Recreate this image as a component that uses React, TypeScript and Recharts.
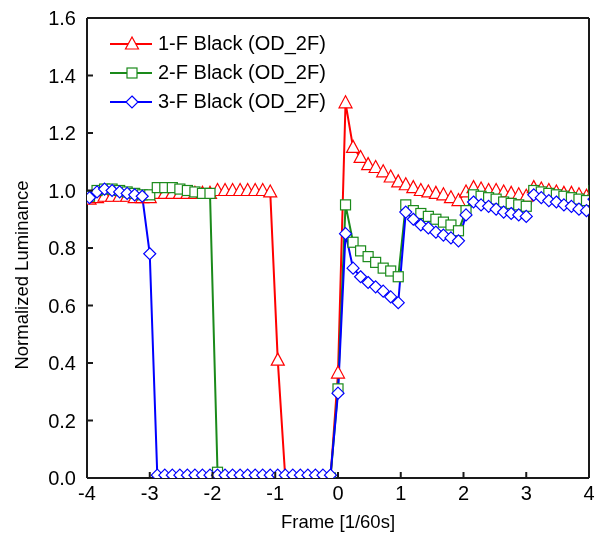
import React from 'react';
import { LineChart, Line, XAxis, YAxis, Legend, ReferenceLine } from 'recharts';

const frameX = [
  -3.96, -3.84, -3.72, -3.6, -3.48, -3.36, -3.24, -3.12, -3.0,
  -2.88, -2.76, -2.64, -2.52, -2.4, -2.28, -2.16, -2.04,
  -1.92, -1.8, -1.68, -1.56, -1.44, -1.32, -1.2, -1.08,
  -0.96, -0.84, -0.72, -0.6, -0.48, -0.36, -0.24, -0.12,
  0,
  0.12, 0.24, 0.36, 0.48, 0.6, 0.72, 0.84, 0.96,
  1.08, 1.2, 1.32, 1.44, 1.56, 1.68, 1.8, 1.92,
  2.04, 2.16, 2.28, 2.4, 2.52, 2.64, 2.76, 2.88, 3.0,
  3.12, 3.24, 3.36, 3.48, 3.6, 3.72, 3.84, 3.96, 4.08,
];

const black1F = [
  0.97, 0.975, 0.98, 0.98, 0.98, 0.98, 0.975, 0.975, 0.975,
  0.99, 0.99, 0.99, 0.99, 0.99, 0.99, 0.99, 0.99,
  1.0, 1.0, 1.0, 1.0, 1.0, 1.0, 1.0, 0.995,
  0.41, 0, 0, 0, 0, 0, 0, 0,
  0.365,
  1.305, 1.15, 1.115, 1.09, 1.08, 1.065, 1.047, 1.03,
  1.02, 1.01, 1.0, 0.995, 0.99, 0.985, 0.975, 0.965,
  0.995, 1.01, 1.005, 1.0, 1.0, 0.995, 0.99, 0.985, 0.98,
  1.01, 1.005, 1.0, 0.995, 0.99, 0.99, 0.985, 0.98, 1.0,
];

const black2F = [
  0.98, 1.0, 1.005, 1.005, 1.0, 0.995, 0.99, 0.985, 0.985,
  1.01, 1.01, 1.01, 1.005, 1.0, 0.995, 0.99, 0.99,
  0.02, 0, 0, 0, 0, 0, 0, 0,
  0, 0, 0, 0, 0, 0, 0, 0,
  0.31,
  0.95, 0.82, 0.79, 0.77, 0.75, 0.73, 0.72, 0.70,
  0.95, 0.93, 0.92, 0.91, 0.90, 0.89, 0.88, 0.86,
  0.93, 0.985, 0.98, 0.975, 0.97, 0.96, 0.955, 0.95, 0.945,
  1.0, 0.995, 0.99, 0.985, 0.98, 0.975, 0.97, 0.965, 1.0,
];

const black3F = [
  0.975, 0.995, 1.005, 1.0, 0.995, 0.99, 0.985, 0.98, 0.78,
  0.01, 0.01, 0.01, 0.01, 0.01, 0.01, 0.01, 0.01,
  0.01, 0.01, 0.01, 0.01, 0.01, 0.01, 0.01, 0.01,
  0.01, 0.01, 0.01, 0.01, 0.01, 0.01, 0.01, 0.01,
  0.295,
  0.85, 0.73, 0.70, 0.68, 0.665, 0.65, 0.63, 0.61,
  0.925, 0.90, 0.88, 0.87, 0.855, 0.845, 0.835, 0.825,
  0.915, 0.96, 0.95, 0.945, 0.935, 0.925, 0.92, 0.915, 0.91,
  0.985, 0.975, 0.965, 0.96, 0.95, 0.945, 0.935, 0.93, 0.97,
];

const xTicks = [-4, -3, -2, -1, 0, 1, 2, 3, 4];
const yTicks = [0, 0.2, 0.4, 0.6, 0.8, 1.0, 1.2, 1.4, 1.6];
const seriesNames = ['1-F Black (OD_2F)', '2-F Black (OD_2F)', '3-F Black (OD_2F)'];

const data = frameX.map((x, i) => ({ x, f1: black1F[i], f2: black2F[i], f3: black3F[i] }));

const FONT = '"Liberation Sans", Arial, sans-serif';
const RED = '#ff0000';
const GREEN = '#1a8a1a';
const BLUE = '#0000ff';
const AXIS = '#1a1a1a';

const triPoints = (cx: number, cy: number) =>
  `${cx},${cy - 7} ${cx - 6.5},${cy + 5} ${cx + 6.5},${cy + 5}`;
const diaPoints = (cx: number, cy: number) =>
  `${cx},${cy - 6} ${cx + 6},${cy} ${cx},${cy + 6} ${cx - 6},${cy}`;

const TriDot = (p: any) => {
  if (p.cx == null || p.cy == null) return <g key={`t${p.index}`} />;
  return <polygon key={`t${p.index}`} points={triPoints(p.cx, p.cy)} fill="#fff" stroke={RED} strokeWidth={1.2} />;
};
const SqDot = (p: any) => {
  if (p.cx == null || p.cy == null) return <g key={`s${p.index}`} />;
  return <rect key={`s${p.index}`} x={p.cx - 5} y={p.cy - 5} width={10} height={10} fill="#fff" stroke={GREEN} strokeWidth={1.2} />;
};
const DiaDot = (p: any) => {
  if (p.cx == null || p.cy == null) return <g key={`d${p.index}`} />;
  return <polygon key={`d${p.index}`} points={diaPoints(p.cx, p.cy)} fill="#fff" stroke={BLUE} strokeWidth={1.2} />;
};

const XTick = (p: any) => {
  const { x, y, payload } = p;
  return (
    <g>
      <line x1={x} y1={y} x2={x} y2={y - 6} stroke={AXIS} strokeWidth={2} />
      <text x={x} y={y + 22} textAnchor="middle" fontFamily={FONT} fontSize={20} fill="#000">
        {String(payload.value)}
      </text>
    </g>
  );
};

const YTick = (p: any) => {
  const { x, y, payload } = p;
  return (
    <g>
      <line x1={x} y1={y} x2={x + 6} y2={y} stroke={AXIS} strokeWidth={2} />
      <text x={x - 11} y={y + 7} textAnchor="end" fontFamily={FONT} fontSize={20} fill="#000">
        {Number(payload.value).toFixed(1)}
      </text>
    </g>
  );
};

const YLabel = () => (
  <text x={20} y={267} transform="rotate(-90, 20, 267)" textAnchor="middle" fontFamily={FONT} fontSize={18.5} fill="#000">
    Normalized Luminance
  </text>
);

const XLabel = () => (
  <text x={330} y={520} textAnchor="middle" fontFamily={FONT} fontSize={18.5} fill="#000">
    Frame [1/60s]
  </text>
);

const legendMarker = (i: number) => {
  if (i === 0) return <polygon points={triPoints(22, 10)} fill="#fff" stroke={RED} strokeWidth={1.2} />;
  if (i === 1) return <rect x={17} y={5} width={10} height={10} fill="#fff" stroke={GREEN} strokeWidth={1.2} />;
  return <polygon points={diaPoints(22, 10)} fill="#fff" stroke={BLUE} strokeWidth={1.2} />;
};
const legendColors = [RED, GREEN, BLUE];

const LegendContent = () => (
  <div style={{ fontFamily: FONT, fontSize: 20, color: '#000' }}>
    {seriesNames.map((name, i) => (
      <div key={name} style={{ display: 'flex', alignItems: 'center', height: 29 }}>
        <svg width={44} height={20} style={{ marginRight: 4 }}>
          <line x1={0} y1={10} x2={42} y2={10} stroke={legendColors[i]} strokeWidth={2} />
          {legendMarker(i)}
        </svg>
        <span style={{ whiteSpace: 'nowrap' }}>{name}</span>
      </div>
    ))}
  </div>
);

export default function App() {
  return (
    <div style={{ position: 'fixed', left: 8, top: 8, width: 588, height: 530 }}>
      <LineChart
        width={588}
        height={530}
        data={data}
        margin={{ top: 10, right: 7, left: 0, bottom: 30 }}
        style={{ fontFamily: FONT, overflow: 'visible' }}
      >
        <XAxis
          type="number"
          dataKey="x"
          domain={[-4, 4]}
          ticks={xTicks}
          allowDataOverflow
          height={30}
          tickSize={0}
          tickMargin={0}
          tick={<XTick />}
          axisLine={{ stroke: AXIS, strokeWidth: 2 }}
          tickLine={false}
          label={<XLabel />}
          interval={0}
        />
        <YAxis
          type="number"
          domain={[0, 1.6]}
          ticks={yTicks}
          allowDataOverflow
          width={79}
          tickSize={0}
          tickMargin={0}
          tick={<YTick />}
          axisLine={{ stroke: AXIS, strokeWidth: 2 }}
          tickLine={false}
          label={<YLabel />}
          interval={0}
        />
        <ReferenceLine x={4} stroke={AXIS} strokeWidth={2} />
        <ReferenceLine y={1.6} stroke={AXIS} strokeWidth={2} />
        <Legend
          layout="vertical"
          align="center"
          verticalAlign="middle"
          wrapperStyle={{ top: 21, left: 102, width: 260 }}
          content={<LegendContent />}
        />
        <Line type="linear" dataKey="f1" stroke={RED} strokeWidth={2} dot={TriDot} activeDot={false} isAnimationActive={false} />
        <Line type="linear" dataKey="f2" stroke={GREEN} strokeWidth={2} dot={SqDot} activeDot={false} isAnimationActive={false} />
        <Line type="linear" dataKey="f3" stroke={BLUE} strokeWidth={2} dot={DiaDot} activeDot={false} isAnimationActive={false} />
      </LineChart>
    </div>
  );
}
